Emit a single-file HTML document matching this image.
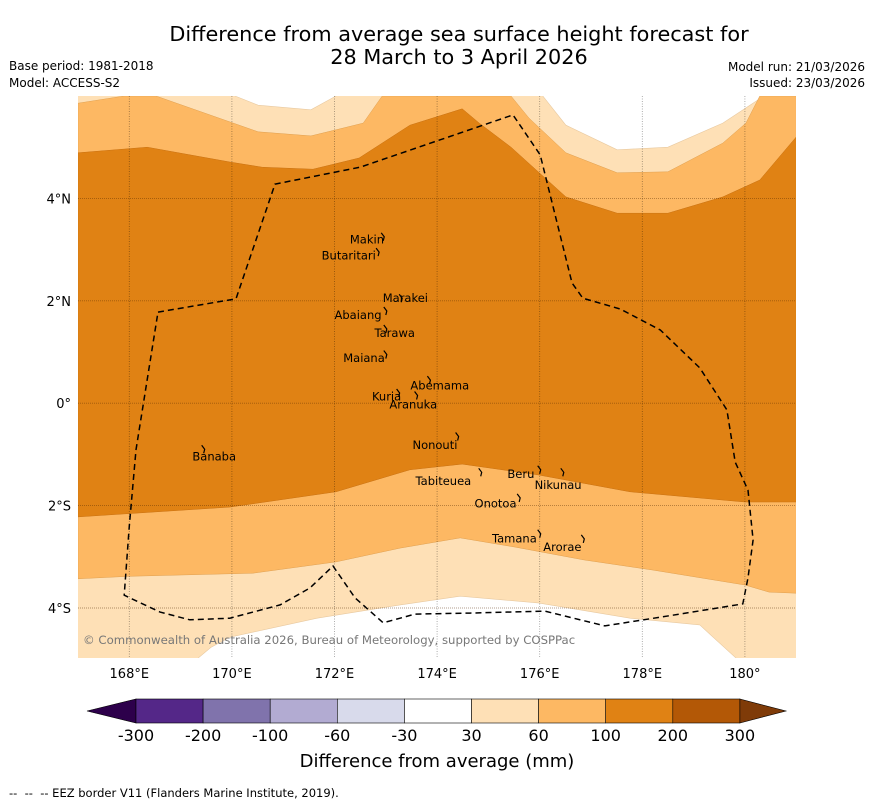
<!DOCTYPE html>
<html><head><meta charset="utf-8">
<style>
body{margin:0;background:#fff;}
svg{display:block;font-family:"DejaVu Sans","Liberation Sans",sans-serif;}
</style></head>
<body>
<svg id="chart" width="873" height="804" viewBox="0 0 873 804" xmlns="http://www.w3.org/2000/svg">
<text x="459" y="41" text-anchor="middle" font-size="20.8">Difference from average sea surface height forecast for</text>
<text x="459" y="64" text-anchor="middle" font-size="20.8">28 March to 3 April 2026</text>
<text x="9" y="70" font-size="12">Base period: 1981-2018</text>
<text x="9" y="87" font-size="12">Model: ACCESS-S2</text>
<text x="865" y="71" font-size="12" text-anchor="end">Model run: 21/03/2026</text>
<text x="865" y="87" font-size="12" text-anchor="end">Issued: 23/03/2026</text>
<g id="map"></g>
<g id="cbar"></g>
<text x="437" y="767" text-anchor="middle" font-size="18">Difference from average (mm)</text>
<text x="9" y="797" font-size="11.5" xml:space="preserve">--  --  -- EEZ border V11 (Flanders Marine Institute, 2019).</text>
</svg>
<script>
const lonTicks=[168,170,172,174,176,178,180];
const lonLabels=["168°E","170°E","172°E","174°E","176°E","178°E","180°"];
const latTicks=[4,2,0,-2,-4];
const latLabels=["4°N","2°N","0°","2°S","4°S"];
// contour regions [lon,lat]
const mediumRegion=[[167,5.86],[167.9,6],[168.52,6],[170.51,5.3],[171.54,5.22],[172.03,5.34],[172.56,5.47],[172.93,6],[175.44,6],[175.79,5.57],[176.51,4.89],[177.51,4.5],[178.5,4.52],[179.57,5.08],[180.02,5.47],[180.29,6],[181,6],[181,-3.71],[180.47,-3.69],[180,-3.55],[178.21,-3.26],[176.86,-3.06],[175.52,-2.81],[174.45,-2.63],[173.28,-2.83],[172.03,-3.1],[170.41,-3.32],[168.0,-3.38],[167,-3.43]];
const darkRegion=[[167,4.89],[168.35,5],[169.96,4.71],[170.59,4.61],[171.58,4.57],[172.48,4.79],[173.47,5.43],[174.49,5.75],[174.82,5.47],[175.44,5],[176.51,4.03],[177.51,3.71],[178.5,3.71],[179.57,4.03],[180.29,4.36],[181,5.2],[181,-1.93],[180,-1.93],[177.76,-1.73],[175.97,-1.4],[174.49,-1.19],[173.47,-1.3],[172.03,-1.73],[169.96,-2.03],[167,-2.22]];
const whiteTopLeft=[[170.06,6],[170.51,5.82],[171.54,5.73],[172.03,6]];
const whiteTopRight=[[176.06,6],[176.51,5.43],[177.51,4.95],[178.5,5.0],[179.57,5.47],[180.37,6]];
const whiteBottom=[[169.34,-4.98],[169.59,-4.77],[169.96,-4.57],[171.66,-4.2],[173.28,-3.94],[174.45,-3.77],[175.97,-3.9],[177.76,-4.2],[179.12,-4.33],[179.38,-4.57],[179.83,-4.98]];
const eez=[[168.56,1.78],[170.08,2.04],[170.84,4.28],[172.5,4.61],[175.48,5.63],[176.01,4.85],[176.63,2.35],[176.84,2.05],[177.57,1.84],[178.35,1.43],[179.12,0.69],[179.65,-0.13],[179.81,-1.15],[180.06,-1.7],[180.16,-2.67],[180.06,-3.41],[179.96,-3.92],[178.73,-4.12],[177.27,-4.35],[176.1,-4.06],[174.64,-4.1],[173.57,-4.12],[172.95,-4.29],[172.4,-3.8],[171.97,-3.18],[171.52,-3.61],[170.94,-3.94],[169.96,-4.2],[169.18,-4.23],[168.6,-4.08],[167.9,-3.75],[168.0,-2.4],[168.13,-0.91],[168.56,1.78]];
const islandNames=["Makin","Butaritari","Marakei","Abaiang","Tarawa","Maiana","Abemama","Kuria","Aranuka","Nonouti","Banaba","Beru","Tabiteuea","Nikunau","Onotoa","Tamana","Arorae"];
const islandLon=[172.95,172.85,173.3,173.0,173.0,173.0,173.85,173.25,173.6,174.4,169.45,176.0,174.85,176.45,175.6,176.0,176.85];
const islandLat=[3.25,2.95,2.05,1.8,1.45,0.95,0.45,0.2,0.15,-0.65,-0.9,-1.3,-1.35,-1.35,-1.85,-2.55,-2.65];
const labelLon=[172.3,171.75,172.94,172.0,172.78,172.17,173.48,172.73,173.07,173.52,169.23,175.37,173.58,175.9,174.73,175.07,176.07];
const labelLat=[3.2,2.88,2.05,1.72,1.37,0.88,0.35,0.13,-0.03,-0.82,-1.04,-1.38,-1.52,-1.6,-1.96,-2.64,-2.81];
const cbLabels=["-300","-200","-100","-60","-30","30","60","100","200","300"];
const cbColors=["#542788","#8073ac","#b2abd2","#d8daeb","#ffffff","#fee0b6","#fdb863","#e08214","#b35806"];

const NS="http://www.w3.org/2000/svg";
const X0=78,X1=796,Y0=96,Y1=658;
const xs=lon=>X0+(lon-167)*51.3;
const ys=lat=>Y0+(6-lat)*51.2;
function mk(tag,attrs,parent){const e=document.createElementNS(NS,tag);for(const k in attrs)e.setAttribute(k,attrs[k]);parent.appendChild(e);return e;}
const pts=a=>a.map(p=>xs(p[0]).toFixed(1)+","+ys(p[1]).toFixed(1)).join(" ");
const map=document.getElementById("map");
const defs=mk("defs",{},map);
const cp=mk("clipPath",{id:"clip"},defs);
mk("rect",{x:X0,y:Y0,width:X1-X0,height:Y1-Y0},cp);
const g=mk("g",{"clip-path":"url(#clip)"},map);
let r=mk("rect",{x:X0,y:Y0,width:X1-X0,height:Y1-Y0,fill:"#fee0b6"},g);


[[whiteTopLeft,"white-region-top-left",[[172.03,7],[170.06,7]]],[whiteTopRight,"white-region-top-right",[[180.37,7],[176.06,7]]],[whiteBottom,"white-region-bottom",[[179.83,-6],[169.34,-6]]]].forEach(w=>{
  const p=mk("polygon",{points:pts(w[0].concat(w[2])),fill:"#ffffff",stroke:"#e8c9a0","stroke-width":0.6},g);
  
  
});
let pm=mk("polygon",{points:pts(mediumRegion),fill:"#fdb863",stroke:"#e0a050","stroke-width":0.5},g);


let pd=mk("polygon",{points:pts(darkRegion),fill:"#e08214",stroke:"#c87010","stroke-width":0.5},g);


// grid
lonTicks.forEach((v,i)=>{
  const l=mk("line",{x1:xs(v),x2:xs(v),y1:Y0,y2:Y1,stroke:"rgba(0,0,0,0.4)","stroke-width":0.8,"stroke-dasharray":"1,1.5"},map);
  
  
  const t=mk("text",{x:xs(v),y:678,"text-anchor":"middle","font-size":13},map);
  t.textContent=lonLabels[i];
  
  
});
latTicks.forEach((v,i)=>{
  const l=mk("line",{x1:X0,x2:X1,y1:ys(v),y2:ys(v),stroke:"rgba(80,40,0,0.45)","stroke-width":0.9,"stroke-dasharray":"1,1"},map);
  
  
  const t=mk("text",{x:71,y:ys(v)+5,"text-anchor":"end","font-size":13},map);
  t.textContent=latLabels[i];
  
  
});
const ez=mk("polyline",{points:pts(eez),fill:"none",stroke:"#000","stroke-width":1.5,"stroke-dasharray":"6,4"},map);


islandNames.forEach((n,i)=>{
  const m=mk("path",{d:`M${xs(islandLon[i])-2},${ys(islandLat[i])-4} l3,4 l-1,4`,stroke:"#000","stroke-width":1.2,fill:"none"},map);
  
  
  const t=mk("text",{x:xs(labelLon[i]),y:ys(labelLat[i])+4,"font-size":11.5},map);
  t.textContent=n;
  
  
});
const cr=mk("text",{x:83,y:644,"font-size":11.7,fill:"#777"},map);
cr.textContent="© Commonwealth of Australia 2026, Bureau of Meteorology, supported by COSPPac";


// colorbar
const cb=document.getElementById("cbar");
const bx0=136,bw=67.1,by=699,bh=24;
const la=mk("polygon",{points:`${bx0},${by} ${bx0},${by+bh} 87,${by+bh/2}`,fill:"#2d004b",stroke:"#000","stroke-width":0.6},cb);


cbColors.forEach((c,i)=>{
  const b=mk("rect",{x:bx0+i*bw,y:by,width:bw,height:bh,fill:c,stroke:"#000","stroke-width":0.6},cb);
  
  
});
const xe=bx0+cbColors.length*bw;
const ra=mk("polygon",{points:`${xe},${by} ${xe},${by+bh} 786,${by+bh/2}`,fill:"#7f3b08",stroke:"#000","stroke-width":0.6},cb);


cbLabels.forEach((s,i)=>{
  const t=mk("text",{x:bx0+i*bw,y:741,"text-anchor":"middle","font-size":16},cb);
  t.textContent=s;
  
  
});
</script>
</body></html>
